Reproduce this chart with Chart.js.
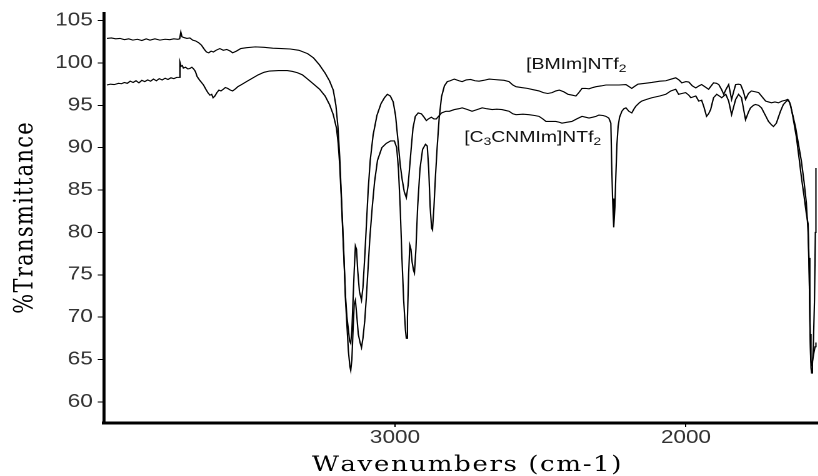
<!DOCTYPE html>
<html>
<head>
<meta charset="utf-8">
<script src="https://cdn.jsdelivr.net/npm/chart.js@4.4.0/dist/chart.umd.min.js"></script>
<style>
html, body { margin: 0; padding: 0; background: #fff; overflow: hidden; }
/* the original figure is stretched sideways, so the chart is drawn narrow and widened */
#wrap { position: absolute; left: 0; top: 0; width: 654px; height: 476px; transform: scaleX(1.25); transform-origin: 0 0; }
</style>
</head>
<body>
<div id="wrap"><canvas id="chart"></canvas></div>
<script>
// [BMIm]NTf2 : wavenumber (cm-1) and %T
var bmimWn = [3990,3975,3960,3945,3930,3915,3901,3885,3870,3855,3842,3825,3808,3790,3774,3760,3746,3740,3736,3732,3725,3715,3705,3695,3685,3675,3665,3655,3648,3640,3632,3624,3615,3602,3590,3578,3566,3558,3545,3530,3510,3480,3450,3420,3390,3360,3330,3300,3280,3260,3240,3225,3212,3203,3196,3190,3185,3180,3175,3170,3165,3160,3155,3152,3148,3144,3140,3136,3132,3126,3120,3115,3110,3104,3098,3092,3086,3078,3070,3060,3045,3030,3015,3002,2994,2988,2982,2976,2970,2964,2961,2957,2953,2949,2945,2941,2936,2933,2928,2922,2914,2905,2895,2889,2884,2879,2874,2871,2866,2861,2855,2848,2840,2830,2820,2810,2796,2780,2769,2755,2740,2725,2711,2695,2676,2660,2642,2625,2608,2595,2584,2565,2545,2525,2505,2490,2475,2460,2447,2435,2420,2405,2390,2378,2368,2357,2345,2333,2320,2309,2290,2275,2255,2230,2206,2195,2186,2178,2165,2140,2117,2090,2069,2050,2035,2024,2014,2000,1990,1978,1966,1955,1946,1935,1922,1913,1905,1895,1887,1878,1870,1862,1853,1848,1843,1836,1829,1820,1812,1803,1795,1785,1775,1762,1750,1738,1726,1716,1706,1694,1682,1670,1658,1650,1643,1635,1623,1612,1603,1594,1586,1580,1576,1573,1570,1568,1565,1562,1558,1555,1553];
var bmimT = [102.9,102.95,102.85,102.9,102.75,102.85,102.7,102.8,102.65,102.85,102.7,102.85,102.7,102.8,102.75,102.85,102.8,102.85,103.65,103.1,103.0,102.9,102.95,102.7,102.6,102.4,102.1,101.6,101.3,101.2,101.4,101.3,101.5,101.7,101.5,101.6,101.4,101.2,101.4,101.7,101.8,101.9,101.85,101.75,101.7,101.65,101.5,101.1,100.6,99.8,98.8,97.9,96.8,95.0,92.5,89,85,81,77,72,69,66,64.2,63.7,65,68.5,71.5,72,70.5,68,67,66.4,67.5,69.5,72.5,76,79.5,83,86,88.5,90.0,90.5,90.8,90.8,90,87.5,83,77,72,68.5,67.5,70,75,78.5,78,76.5,75.5,75.2,78,83,87.5,89.8,90.4,90.2,87.5,83,80.5,80.3,83,86.5,90,93.5,96,97.3,97.8,97.9,98.1,97.9,97.8,98.0,98.05,97.9,97.85,97.95,98.1,98.05,98.0,97.95,97.8,97.4,97.2,97.1,97.0,96.85,96.7,96.5,96.4,96.5,96.7,96.8,96.6,96.3,96.2,96.1,96.5,97.0,97.0,96.95,97.1,97.2,97.3,97.4,97.4,97.4,97.45,97.2,97.0,97.2,97.5,97.6,97.7,97.85,97.9,98.1,98.25,98.0,97.65,97.8,97.75,97.3,97.06,97.3,97.45,97.2,96.9,97.3,97.65,97.6,97.45,96.9,96.3,96.9,97.45,96.6,95.7,96.6,97.45,97.5,97.45,96.7,95.7,96.4,96.7,96.6,96.5,96.0,95.5,95.4,95.3,95.4,95.3,95.5,95.6,95.7,95.3,94.2,92.4,90.2,88.4,86,83.5,80,75,68,64,63.4,64.5,66.5,72,80,87.6];

// [C3CNMIm]NTf2 : wavenumber (cm-1) and %T
var c3cnWn = [3990,3978,3965,3950,3940,3930,3920,3910,3900,3890,3880,3870,3860,3850,3840,3830,3820,3810,3800,3790,3780,3770,3760,3750,3742,3739,3735,3731,3727,3720,3712,3705,3698,3692,3686,3680,3672,3665,3658,3650,3643,3636,3630,3625,3619,3612,3605,3598,3590,3583,3575,3566,3558,3550,3540,3525,3510,3490,3470,3450,3431,3400,3370,3352,3335,3318,3300,3283,3259,3240,3225,3212,3201,3195,3190,3185,3180,3175,3170,3165,3160,3156,3152,3148,3144,3140,3136,3132,3128,3122,3115,3110,3104,3098,3092,3085,3075,3062,3048,3036,3026,3016,3006,2998,2990,2982,2975,2968,2961,2955,2950,2944,2938,2930,2920,2909,2900,2892,2885,2875,2866,2858,2850,2840,2825,2813,2796,2780,2769,2750,2735,2718,2700,2685,2666,2650,2632,2620,2608,2595,2584,2560,2539,2520,2505,2492,2481,2465,2447,2435,2426,2410,2392,2375,2357,2345,2333,2320,2309,2299,2285,2275,2265,2258,2255,2252,2248,2244,2241,2237,2233,2228,2220,2213,2206,2196,2186,2178,2172,2160,2152,2135,2117,2090,2069,2052,2035,2025,2014,2001,1990,1983,1975,1966,1956,1946,1938,1929,1922,1915,1910,1905,1894,1885,1877,1870,1863,1853,1848,1843,1836,1829,1819,1809,1802,1795,1785,1778,1768,1761,1750,1740,1728,1716,1706,1699,1689,1682,1675,1665,1654,1647,1640,1632,1620,1610,1603,1594,1586,1580,1577,1574,1571,1568,1565,1560,1556,1553];
var c3cnT = [97.4,97.5,97.45,97.6,97.55,97.7,97.6,97.85,97.7,97.9,97.65,97.95,97.8,98.0,97.85,98.1,97.9,98.15,98.0,98.2,98.05,98.25,98.15,98.3,98.3,100.1,99.6,99.7,99.4,99.5,99.3,99.35,99.5,99.3,99.0,98.4,98.0,97.7,97.4,96.9,96.5,96.2,96.3,95.9,96.1,96.5,96.8,96.7,96.9,97.1,97.0,96.8,96.7,96.9,97.2,97.5,97.8,98.2,98.6,98.9,99.05,99.1,99.1,99.0,98.85,98.6,98.1,97.6,96.9,96.1,95.1,93.9,92.3,90.5,88,84.5,80.6,76.5,72.5,70,68.5,67.2,66.9,68.5,72,75.5,78.4,78,75.5,73,72,73.5,77,81,85,88.5,91.5,93.8,95.2,95.9,96.3,96.1,95.4,93.8,91,88,86.2,84.8,84.1,85.5,87.5,90,92.3,93.7,94.1,94.0,93.6,93.2,93.4,93.6,93.4,93.4,93.7,94.1,94.3,94.3,94.5,94.6,94.7,94.5,94.3,94.5,94.7,94.6,94.5,94.55,94.5,94.4,94.3,94.0,93.9,93.95,93.9,93.8,93.7,93.4,93.1,93.1,93.1,93.0,92.9,93.0,93.1,93.4,93.7,93.6,93.5,93.6,93.7,93.85,93.8,93.7,93.5,92.9,88,84,80.6,83,86.5,90.4,92.5,93.6,94.3,94.6,94.7,94.3,94.1,94.6,94.9,95.3,95.5,95.7,95.9,96.1,96.3,96.7,96.9,96.3,96.4,96.5,96.2,95.9,96.0,96.1,95.5,95.6,94.8,93.7,94.0,94.5,95.2,95.9,96.3,96.1,95.9,96.1,96.3,95.5,94.7,93.9,94.8,95.7,96.3,95.9,94.6,93.3,94.2,94.7,95.0,95.1,95.0,94.7,93.9,93.1,92.7,92.5,92.9,93.6,94.3,95.1,95.5,95.6,95.0,93.6,91.2,88.5,86.5,84.3,82.2,81,77,70,65,64.3,64.8,65.8,66.5,67];

var xTicks = [3000, 2000];
var yTicks = [60, 65, 70, 75, 80, 85, 90, 95, 100, 105];
var xTitle = 'Wavenumbers (cm-1)';
var yTitle = '%Transmittance';

// curve labels, pieces with subscripts
var curveLabels = [
  { wn: 2549, t: 99.3, parts: [['[BMIm]NTf', false], ['2', true]] },
  { wn: 2762, t: 90.7, parts: [['[C', false], ['3', true], ['CNMIm]NTf', false], ['2', true]] }
];

function toPoints(wn, t) {
  var pts = [];
  for (var i = 0; i < wn.length; i++) pts.push({ x: wn[i], y: t[i] });
  return pts;
}

// letter-spaced text centred on (0,0) of the current transform
function spacedText(ctx, text, spacing) {
  var widths = [], total = 0;
  for (var i = 0; i < text.length; i++) {
    var w = ctx.measureText(text[i]).width;
    widths.push(w);
    total += w + (i < text.length - 1 ? spacing : 0);
  }
  var x = -total / 2;
  for (var j = 0; j < text.length; j++) {
    ctx.fillText(text[j], x, 0);
    x += widths[j] + spacing;
  }
}

var textPlugin = {
  id: 'extraText',
  afterDraw: function(chart) {
    var ctx = chart.ctx;
    var xs = chart.scales.x, ys = chart.scales.y, area = chart.chartArea;
    ctx.save();
    ctx.fillStyle = '#111';
    ctx.textAlign = 'left';

    // curve labels
    ctx.textBaseline = 'alphabetic';
    curveLabels.forEach(function(lb) {
      var x = xs.getPixelForValue(lb.wn);
      var y = ys.getPixelForValue(lb.t);
      lb.parts.forEach(function(p) {
        ctx.font = (p[1] ? '11px' : '15.5px') + ' "Liberation Sans", Arial, sans-serif';
        ctx.fillText(p[0], x, y + (p[1] ? 3 : 0));
        x += ctx.measureText(p[0]).width;
      });
    });

    // axis titles
    ctx.fillStyle = '#000';
    ctx.textBaseline = 'alphabetic';
    ctx.font = '21px "DejaVu Serif", "Liberation Serif", serif';
    ctx.save();
    ctx.translate((area.left + area.right) / 2 + 5, 471);
    spacedText(ctx, xTitle, 1.2);
    ctx.restore();

    ctx.font = '21px "DejaVu Serif", "Liberation Serif", serif';
    ctx.save();
    ctx.translate(26, (area.top + area.bottom) / 2);
    ctx.rotate(-Math.PI / 2);
    spacedText(ctx, yTitle, 1.3);
    ctx.restore();

    ctx.restore();
  }
};

var tickFont = { family: '"Liberation Sans", Arial, sans-serif', size: 18, lineHeight: 0.8 };

new Chart(document.getElementById('chart'), {
  type: 'line',
  data: {
    datasets: [
      { label: '[BMIm]NTf2', data: toPoints(bmimWn, bmimT), borderColor: '#000', borderWidth: 1.1, pointRadius: 0, tension: 0, fill: false },
      { label: '[C3CNMIm]NTf2', data: toPoints(c3cnWn, c3cnT), borderColor: '#000', borderWidth: 1.1, pointRadius: 0, tension: 0, fill: false }
    ]
  },
  options: {
    responsive: true,
    maintainAspectRatio: false,
    devicePixelRatio: 2,
    animation: false,
    layout: { padding: { top: 13, right: 0, left: 0, bottom: 0 } },
    plugins: { legend: { display: false }, tooltip: { enabled: false } },
    scales: {
      x: {
        type: 'linear',
        reverse: true,
        min: 1550,
        max: 4000,
        afterBuildTicks: function(s) { s.ticks = xTicks.map(function(v) { return { value: v }; }); },
        afterFit: function(s) { s.height = 53; },
        grid: { drawOnChartArea: false, drawTicks: true, tickLength: 4, color: '#000', lineWidth: 1 },
        border: { display: true, color: '#000', width: 3 },
        ticks: { color: '#333', font: tickFont, padding: 4, maxRotation: 0, callback: function(v) { return String(v); } },
        title: { display: false }
      },
      y: {
        min: 57.5,
        max: 105.9,
        afterBuildTicks: function(s) { s.ticks = yTicks.map(function(v) { return { value: v }; }); },
        afterFit: function(s) { s.width = 83.2; },
        grid: { drawOnChartArea: false, drawTicks: true, tickLength: 5, color: '#000', lineWidth: 1 },
        border: { display: true, color: '#000', width: 2.4 },
        ticks: { color: '#333', font: tickFont, padding: 4, callback: function(v) { return String(v); } },
        title: { display: false }
      }
    }
  },
  plugins: [textPlugin]
});
</script>
</body>
</html>
